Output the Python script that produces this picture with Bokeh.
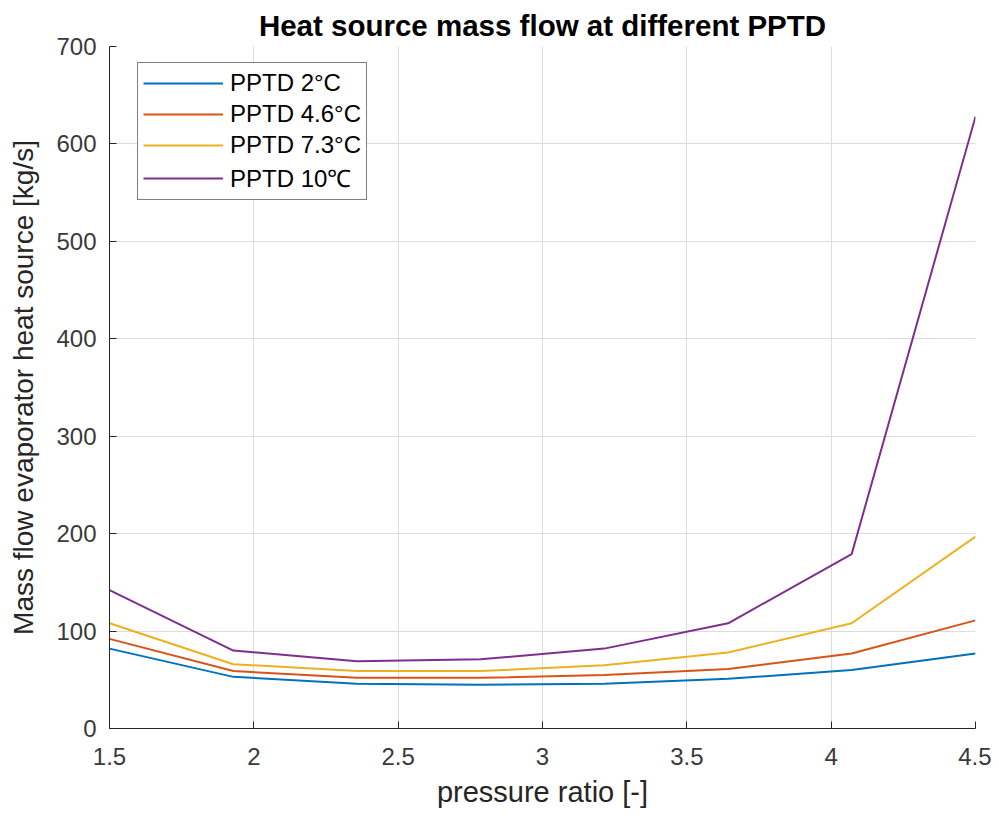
from bokeh.plotting import figure
from bokeh.models import Legend, LegendItem, FixedTicker, Range1d
from bokeh.embed import file_html
from bokeh.resources import INLINE

pressure_ratio = [1.5, 1.929, 2.357, 2.786, 3.214, 3.643, 4.071, 4.5]
pptd_2 = [82, 53, 46, 45, 46, 51, 60, 77]
pptd_4_6 = [92, 59, 52, 52, 55, 61, 77, 111]
pptd_7_3 = [108, 66, 59, 59, 65, 78, 108, 197]
pptd_10 = [142, 80, 69, 71, 82, 108, 179, 628]
series_labels = ["PPTD 2°C", "PPTD 4.6°C", "PPTD 7.3°C", "PPTD 10℃"]
colors = ["#0072BD", "#D95319", "#EDB120", "#7E2F8E"]
x_ticks = [1.5, 2, 2.5, 3, 3.5, 4, 4.5]
y_ticks = [0, 100, 200, 300, 400, 500, 600, 700]

FONT = "Liberation Sans"
TXT = "#262626"

p = figure(width=991, height=810, output_backend="svg", toolbar_location=None,
           x_range=Range1d(1.5, 4.5), y_range=Range1d(0, 700),
           min_border_left=109, min_border_right=16, min_border_top=46,
           min_border_bottom=78,
           title="Heat source mass flow at different PPTD")

p.title.align = "center"
p.title.text_font = FONT
p.title.text_font_size = "29.5px"
p.title.text_font_style = "bold"
p.title.text_color = "#000000"
p.title.standoff = 10

p.outline_line_color = None
p.background_fill_color = "white"
p.border_fill_color = "white"

for ax in (p.xaxis[0], p.yaxis[0]):
    ax.axis_line_color = TXT
    ax.axis_line_width = 1
    ax.major_tick_line_color = TXT
    ax.major_tick_out = 0
    ax.major_tick_in = 7
    ax.minor_tick_line_color = None
    ax.major_label_text_font = FONT
    ax.major_label_text_font_size = "24px"
    ax.major_label_text_color = "#3a3a3a"
    ax.axis_label_text_font = FONT
    ax.axis_label_text_font_style = "normal"
    ax.axis_label_text_color = TXT

p.xaxis.axis_label_text_font_size = "29px"
p.yaxis.axis_label_text_font_size = "28px"
p.xaxis.ticker = FixedTicker(ticks=x_ticks)
p.yaxis.ticker = FixedTicker(ticks=y_ticks)
p.xaxis.axis_label = "pressure ratio [-]"
p.yaxis.axis_label = "Mass flow evaporator heat source [kg/s]"
p.xaxis.major_label_standoff = 19
p.yaxis.major_label_standoff = 13
p.xaxis.axis_label_standoff = 8
p.yaxis.axis_label_standoff = 14
p.yaxis.major_label_orientation = "horizontal"

p.grid.grid_line_color = "#dcdcdc"
p.grid.grid_line_width = 1

items = []
for ys, lab, c in zip([pptd_2, pptd_4_6, pptd_7_3, pptd_10], series_labels, colors):
    r = p.line(pressure_ratio, ys, line_color=c, line_width=2)
    items.append(LegendItem(label=lab, renderers=[r]))

legend = Legend(items=items, location=(28, 528))
legend.border_line_color = "#000000"
legend.border_line_width = 1
legend.background_fill_color = "white"
legend.background_fill_alpha = 1
legend.label_text_font = FONT
legend.label_text_font_size = "24px"
legend.label_text_color = "#000000"
legend.glyph_width = 80
legend.glyph_height = 30
legend.label_height = 30
legend.spacing = 1
legend.padding = 5
legend.label_standoff = 7
legend.margin = 0
p.add_layout(legend, "center")

open("out.html", "w").write(file_html(p, INLINE))
